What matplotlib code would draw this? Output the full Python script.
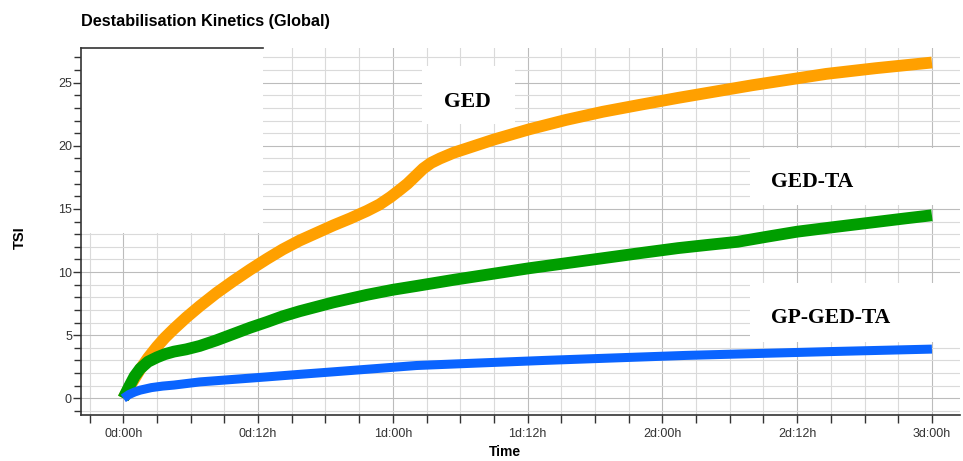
import matplotlib
matplotlib.use('Agg')
import matplotlib.pyplot as plt
from matplotlib.ticker import MultipleLocator, FuncFormatter
from matplotlib.patches import Rectangle

t_ged = [0, 0.75, 1.5, 2.2, 3, 3.7, 4.5, 5.6, 6.8, 8.3, 9.8, 11.3, 12.8, 14.2,
         15.7, 17.2, 18.7, 20.2, 21.7, 22.8, 23.8, 24.6, 25.3, 26, 26.7, 27.4,
         28.2, 29.4, 30.6, 33, 36.1, 39.4, 42.7, 46, 49.4, 52.7, 56, 59.3,
         62.6, 67, 72]
tsi_ged = [0, 1.2, 2.3, 3.2, 4.1, 4.8, 5.5, 6.4, 7.3, 8.35, 9.3, 10.2, 11.05, 11.8,
           12.5, 13.1, 13.7, 14.25, 14.85, 15.35, 15.95, 16.5, 17.0, 17.6, 18.2, 18.65,
           19.0, 19.45, 19.8, 20.5, 21.3, 22.05, 22.7, 23.25, 23.8, 24.3, 24.8, 25.25,
           25.7, 26.15, 26.6]

t_gedta = [0, 0.5, 1, 1.5, 2.2, 3, 3.7, 4.5, 5.6, 6.8, 8.3, 9.8, 11.3, 12.8,
           14.2, 15.7, 17.2, 18.7, 20.2, 21.7, 24, 26.1, 29.5, 32.8, 36.1, 39.4,
           42.7, 46, 49.4, 52, 54.7, 57.3, 60, 63.6, 67.3, 69.6, 72]
tsi_gedta = [0, 0.9, 1.75, 2.35, 2.9, 3.25, 3.5, 3.7, 3.88, 4.15, 4.6, 5.1, 5.6, 6.05,
             6.5, 6.9, 7.25, 7.6, 7.9, 8.2, 8.6, 8.9, 9.4, 9.85, 10.3, 10.7,
             11.1, 11.5, 11.9, 12.15, 12.4, 12.8, 13.2, 13.6, 14.0, 14.25, 14.5]

t_gp = [0, 0.5, 1, 1.5, 2.5, 3.5, 4.5, 6.8, 9.8, 12.8, 15.7, 18.7, 22.4, 26.1,
        31.7, 37.4, 43.7, 50.1, 56.4, 62.8, 67.4, 72]
tsi_gp = [0, 0.3, 0.5, 0.65, 0.85, 0.97, 1.05, 1.3, 1.5, 1.7, 1.9, 2.1, 2.35, 2.6,
          2.8, 3.0, 3.2, 3.4, 3.55, 3.7, 3.8, 3.9]

labels = ['GED', 'GED-TA', 'GP-GED-TA']

fig = plt.figure(figsize=(9.63, 4.61), dpi=100)
ax = fig.add_axes([81 / 963, 1 - 415 / 461, 879 / 963, 367 / 461])

ax.set_xlim(-3.77, 74.5)
ax.set_ylim(-1.32, 27.75)

# Gitter
ax.set_axisbelow(True)
ax.xaxis.set_major_locator(MultipleLocator(12))
ax.xaxis.set_minor_locator(MultipleLocator(3))
ax.yaxis.set_major_locator(MultipleLocator(5))
ax.yaxis.set_minor_locator(MultipleLocator(1))
ax.grid(True, which='major', color='#bcbcbc', linewidth=0.8)
ax.grid(True, which='minor', color='#dadada', linewidth=0.8)

ax.xaxis.set_major_formatter(FuncFormatter(
    lambda v, p: f'{int(v) // 24}d:{int(v) % 24:02d}h'))

# weisse Flaechen wie im Original
ax.add_patch(Rectangle((-3.77, 13.1), 16.22, 14.65, facecolor='white',
                       edgecolor='none', zorder=1))
ax.add_patch(Rectangle((26.6, 21.7), 8.3, 4.6, facecolor='white',
                       edgecolor='none', zorder=1))
ax.add_patch(Rectangle((55.8, 15.3), 18.7, 4.5, facecolor='white',
                       edgecolor='none', zorder=1))
ax.add_patch(Rectangle((55.8, 4.5), 18.7, 4.6, facecolor='white',
                       edgecolor='none', zorder=1))

ax.plot(t_ged, tsi_ged, color='#ffa000', linewidth=8.5, solid_joinstyle='round',
        solid_capstyle='butt', zorder=2)
ax.plot(t_gedta, tsi_gedta, color='#009e00', linewidth=8.5, solid_joinstyle='round',
        solid_capstyle='butt', zorder=3)
ax.plot(t_gp, tsi_gp, color='#0a64ff', linewidth=6.5, solid_joinstyle='round',
        solid_capstyle='butt', zorder=4)

serif = dict(family='Liberation Serif', fontweight='bold', fontsize=15.6, color='black')
ax.text(30.6, 23.5, labels[0], ha='center', va='center', zorder=5, **serif)
ax.text(57.7, 17.1, labels[1], ha='left', va='center', zorder=5, **serif)
ax.text(57.7, 6.35, labels[2], ha='left', va='center', zorder=5, **serif)

# Achsen
for s in ['top', 'right']:
    ax.spines[s].set_visible(False)
for s in ['left', 'bottom']:
    ax.spines[s].set_color('#333333')
    ax.spines[s].set_linewidth(1.2)
ax.axhline(27.75, xmin=0, xmax=0.207, color='#333333', linewidth=1.2, zorder=6, clip_on=False)

ax.tick_params(axis='both', which='both', direction='out', color='#333333',
               width=1, labelcolor='#333333', labelsize=9)
ax.tick_params(axis='x', which='both', length=5.5, pad=4)
ax.tick_params(axis='y', which='major', length=5.5, pad=1)
ax.tick_params(axis='y', which='minor', length=5, pad=1)
for lab in ax.get_xticklabels() + ax.get_yticklabels():
    lab.set_family('Liberation Sans')

fig.text(81 / 963, 1 - 21.7 / 461, 'Destabilisation Kinetics (Global)', ha='left',
         va='center', family='Liberation Sans', fontweight='bold', fontsize=11.7)
fig.text(20 / 963, 1 - 238 / 461, 'TSI', rotation=90, ha='center', va='center',
         family='Liberation Sans', fontweight='bold', fontsize=10.5)
fig.text(505 / 963, 1 - 452 / 461, 'Time', ha='center', va='center',
         family='Liberation Sans', fontweight='bold', fontsize=10)

fig.savefig('out.png', dpi=100, facecolor='white')
